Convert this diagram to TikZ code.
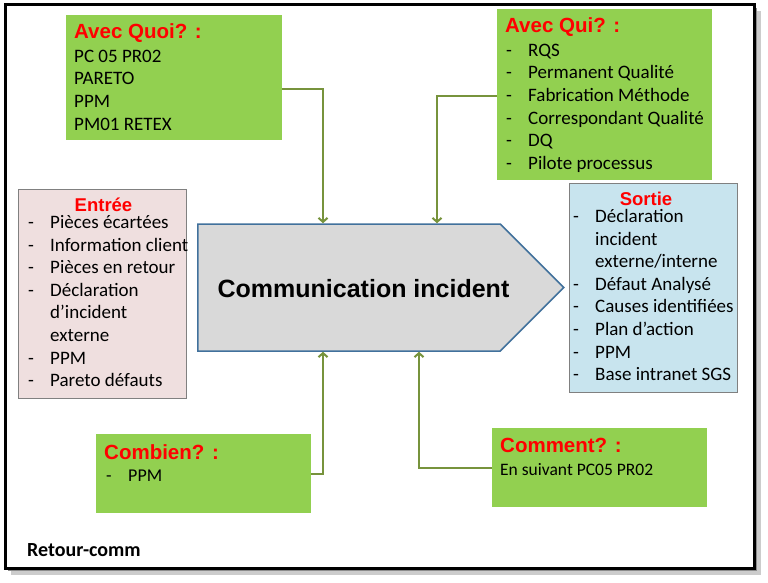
\documentclass[tikz,border=0pt]{standalone}
\usepackage{fontspec}
\setmainfont{Carlito}
\newfontfamily\arialfont{Liberation Sans}
\usepackage{tikz}
\usetikzlibrary{shapes.symbols,arrows.meta}
\definecolor{boxgreen}{HTML}{92D050}
\definecolor{linkgreen}{HTML}{77933C}
\definecolor{inpink}{HTML}{EFDFDF}
\definecolor{outblue}{HTML}{C8E4EE}
\definecolor{procgray}{HTML}{D9D9D9}
\definecolor{procblue}{HTML}{41719C}

\begin{document}
\begin{tikzpicture}[x=1pt,y=-1pt,
    greenbox/.style={fill=boxgreen,anchor=north west,inner sep=0pt},
    listbox/.style={draw=black!50,line width=1.2pt,anchor=north west,inner sep=0pt,minimum width=168pt,minimum height=209pt},
    title/.style={font=\arialfont\bfseries\fontsize{20.5}{24}\selectfont,text=red,inner sep=0pt,anchor=base west},
    items/.style={font=\fontsize{19}{22.6}\selectfont,align=left,inner sep=0pt,anchor=north west},
    link/.style={draw=linkgreen,line width=2pt,-{Straight Barb[length=4pt,width=9pt]}}]
                \def\dashitem{\makebox[22pt][l]{-}}
                \def\dashskip{\hspace*{22pt}}
                \useasboundingbox (0,0) rectangle (768,583);
                \fill[black!20] (11,11) rectangle (761,575);
                \fill[black!45] (8,8) rectangle (757,571);
                \draw[line width=3pt,fill=white] (5,5) rectangle (754,568);
                \node[greenbox,minimum width=216pt,minimum height=125pt] (quoi) at (66,15) {};
                \node[greenbox,minimum width=215pt,minimum height=171pt] (qui) at (497,9) {};
                \node[greenbox,minimum width=215pt,minimum height=79pt] (combien) at (96,434) {};
                \node[greenbox,minimum width=215pt,minimum height=79pt] (comment) at (492,428) {};
                \node[listbox,fill=inpink] (entree) at (18,189) {};
                \node[listbox,fill=outblue] (sortie) at (569,183) {};
                \node[signal,signal to=east,signal pointer angle=90,draw=procblue,fill=procgray,line width=1.5pt,
                      minimum width=366pt,minimum height=127pt,inner sep=0pt] (proc) at (349,287.5) {};
                \node[title] (quoiTitle) at (74,39) {Avec Quoi? :};
                \node[items] (quoiItems) at (74,46.2) {\strut PC 05 PR02\\PARETO\\PPM\\PM01 RETEX};
                \node[title] (quiTitle) at (505,33) {Avec Qui? :};
                \node[items] (quiItems) at (506,40.2) {\strut\dashitem RQS\\\dashitem Permanent Qualité\\
                      \dashitem Fabrication Méthode\\\dashitem Correspondant Qualité\\\dashitem DQ\\\dashitem Pilote processus};
                \node[title,anchor=base,font=\arialfont\bfseries\fontsize{18.5}{22}\selectfont] (entreeTitle) at (103.5,211) {Entrée};
                \node[items] (entreeItems) at (28,212.5) {\strut\dashitem Pièces écartées\\\dashitem Information client\\
                      \dashitem Pièces en retour\\\dashitem Déclaration\\\dashskip d’incident\\\dashskip externe\\
                      \dashitem PPM\\\dashitem Pareto défauts};
                \node[title,anchor=base,font=\arialfont\bfseries\fontsize{18.5}{22}\selectfont] (sortieTitle) at (646,205) {Sortie};
                \node[items] (sortieItems) at (573,206.5) {\strut\dashitem Déclaration\\\dashskip incident\\
                      \dashskip externe/interne\\\dashitem Défaut Analysé\\\dashitem Causes identifiées\\
                      \dashitem Plan d’action\\\dashitem PPM\\\dashitem Base intranet SGS};
                \node[title] (combienTitle) at (104,459) {Combien? :};
                \node[items,anchor=base west,font=\fontsize{18}{22}\selectfont] (combienItems) at (106,481) {\dashitem PPM};
                \node[title] (commentTitle) at (500,452) {Comment? :};
                \node[items,anchor=base west,font=\fontsize{17.5}{21}\selectfont] (commentItems) at (500,475) {En suivant PC05 PR02};
                \node[anchor=base,font=\arialfont\bfseries\fontsize{25}{30}\selectfont,inner sep=0pt] (procText) at (363.5,297) {Communication incident};
                \node[anchor=base west,font=\bfseries\fontsize{20}{24}\selectfont,inner sep=0pt] (retour) at (27,556) {Retour-comm};
                \draw[link] ([yshift=-11.5pt]quoi.east) -| ([xshift=-26pt]proc.north);
                \draw[link] ([yshift=-1.5pt]qui.west) -| ([xshift=88pt]proc.north);
                \draw[link] (combien.east) -| ([xshift=-26pt]proc.south);
                \draw[link] ([yshift=-0.5pt]comment.west) -| ([xshift=70pt]proc.south);
            \end{tikzpicture}
\end{document}
